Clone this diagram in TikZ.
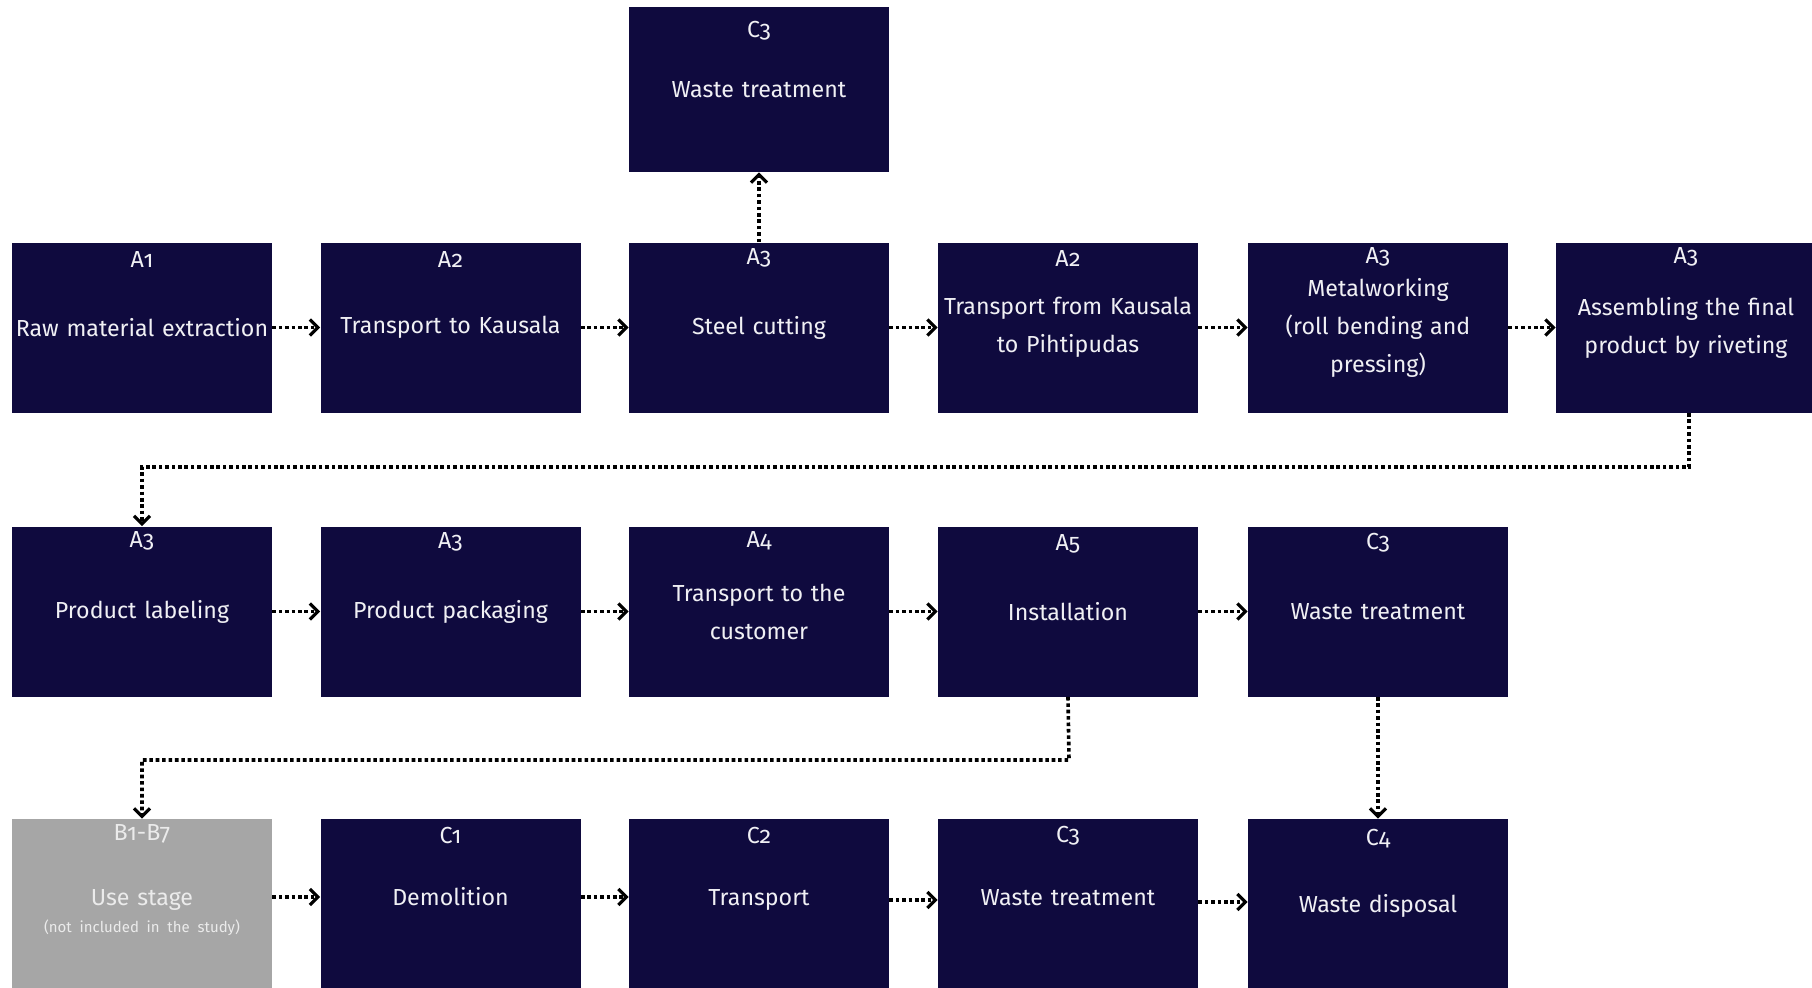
\documentclass[tikz,border=0pt]{standalone}
\usepackage{fontspec}
\setmainfont{Fira Sans}[Numbers=OldStyle]
\usetikzlibrary{arrows.meta}
\definecolor{navy}{HTML}{0F0A3E}
\definecolor{usegrey}{HTML}{A6A6A6}
\definecolor{txt}{HTML}{F0F0F4}
\definecolor{greytxt}{HTML}{EBEBEB}
\begin{document}
\begin{tikzpicture}[x=0.5pt,y=-0.5pt,
  stage/.style={rectangle, fill=navy, text=txt, minimum width=130pt, minimum height=85pt,
    inner sep=0pt, align=center, text width=129pt, font=\fontsize{11.6}{19}\selectfont},
  lowtext/.style={text height=8pt, text depth=7pt},
  usebox/.style={stage, fill=usegrey, text=greytxt},
  code/.style={text=txt, inner sep=0pt, font=\fontsize{11.6}{13}\selectfont},
  flow/.style={line width=1.8pt, dash pattern=on 1.8pt off 1.4pt,
    -{Straight Barb[length=4pt,width=8pt,line width=1.6pt]}}]
\useasboundingbox (0,0) rectangle (1812,987);
\fill[white] (0,0) rectangle (1812,987);
\clip (0,0) rectangle (1812,987);
% top
\node[stage, minimum height=82.5pt] (t3) at (759,89.5) {Waste treatment};
% row 1
\node[stage] (a1) at (142,327.5) {Raw material extraction};
\node[stage] (a2) at (450.5,327.5) {Transport to Kausala};
\node[stage] (a3) at (759,327.5) {Steel cutting};
\node[stage] (a4) at (1068,327.5) {Transport from Kausala\\to Pihtipudas};
\node[stage] (a5) at (1378,327.5) {Metalworking\\(roll bending and\\pressing)};
\node[stage] (a6) at (1686,327.5) {Assembling the final\\product by riveting};
% row 2
\node[stage] (b1) at (142,611.5) {Product labeling};
\node[stage] (b2) at (450.5,611.5) {Product packaging};
\node[stage] (b3) at (759,611.5) {Transport to the\\customer};
\node[stage] (b4) at (1068,611.5) {Installation};
\node[stage] (b5) at (1378,611.5) {Waste treatment};
% row 3
\node[usebox, text height=1pt, text depth=0pt] (c0) at (142,904) {Use stage\\[-5.5pt]{\fontsize{7.5}{9}\selectfont (not included in the study)}};
\node[stage, lowtext] (c1) at (450.5,904) {Demolition};
\node[stage, lowtext] (c2) at (759,904) {Transport};
\node[stage, lowtext] (c3) at (1068,904) {Waste treatment};
\node[stage, text height=8pt, text depth=0pt] (c4) at (1378,904) {Waste disposal};
% codes
\node[code] (lt3) at ([yshift=-12pt]t3.north) {C3};
\node[code] (la1) at ([yshift=-8.5pt]a1.north) {A1};
\node[code] (la2) at ([yshift=-8.5pt]a2.north) {A2};
\node[code] (la3) at ([yshift=-8pt]a3.north) {A3};
\node[code] (la4) at ([yshift=-8pt]a4.north) {A2};
\node[code] (la5) at ([yshift=-7.5pt]a5.north) {A3};
\node[code] (la6) at ([yshift=-7.5pt]a6.north) {A3};
\node[code] (lb1) at ([yshift=-7.5pt]b1.north) {A3};
\node[code] (lb2) at ([yshift=-8pt]b2.north) {A3};
\node[code] (lb3) at ([yshift=-7.5pt]b3.north) {A4};
\node[code] (lb4) at ([yshift=-9pt]b4.north) {A5};
\node[code] (lb5) at ([yshift=-8.5pt]b5.north) {C3};
\node[code, text=greytxt] (lc0) at ([yshift=-7.5pt]c0.north) {B1-B7};
\node[code] (lc1) at ([yshift=-8.5pt]c1.north) {C1};
\node[code] (lc2) at ([yshift=-8.5pt]c2.north) {C2};
\node[code] (lc3) at ([yshift=-8.5pt]c3.north) {C3};
\node[code] (lc4) at ([yshift=-10pt]c4.north) {C4};
% connectors
\draw[flow] (a3) -- (t3);
\draw[flow] (a1) -- (a2);
\draw[flow] (a2) -- (a3);
\draw[flow] (a3) -- (a4);
\draw[flow] (a4) -- (a5);
\draw[flow] (a5) -- (a6);
\coordinate (k1) at (1689,467);
\coordinate (k2) at (1069,760);
\draw[flow] (a6.south -| k1) -- (k1) -| (b1.north);
\draw[flow] (b1) -- (b2);
\draw[flow] (b2) -- (b3);
\draw[flow] (b3) -- (b4);
\draw[flow] (b4) -- (b5);
\draw[flow] (b4.south) -- (k2) -| (c0.north);
\draw[flow] (b5) -- (c4);
\draw[flow] ([yshift=3.5pt]c0.east) -- ([yshift=3.5pt]c1.west);
\draw[flow] ([yshift=3.5pt]c1.east) -- ([yshift=3.5pt]c2.west);
\draw[flow] ([yshift=2pt]c2.east) -- ([yshift=2pt]c3.west);
\draw[flow] ([yshift=1pt]c3.east) -- ([yshift=1pt]c4.west);
\end{tikzpicture}
\end{document}
